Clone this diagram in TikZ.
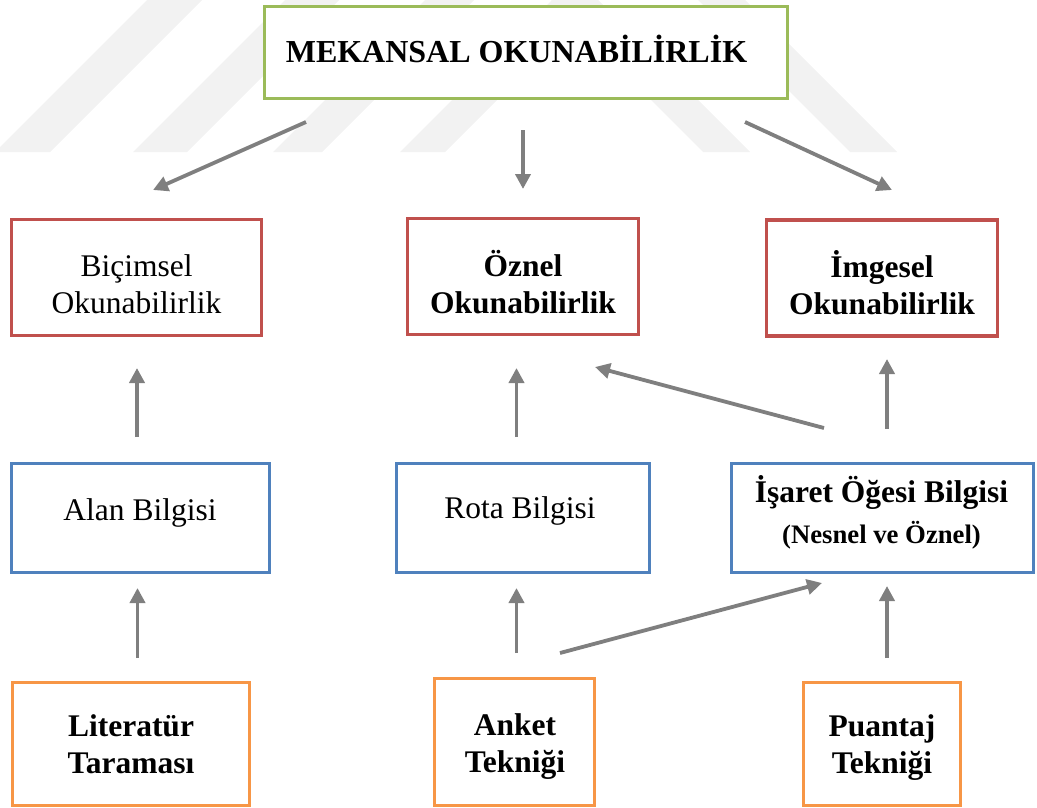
\documentclass[tikz,border=0pt]{standalone}
\usepackage{fontspec}
\setmainfont{Liberation Serif}
\usetikzlibrary{arrows.meta}
\definecolor{bxgreen}{RGB}{155,187,89}
\definecolor{bxred}{RGB}{192,80,77}
\definecolor{bxblue}{RGB}{79,129,189}
\definecolor{bxorange}{RGB}{247,150,70}
\definecolor{arrgray}{RGB}{127,127,127}
\definecolor{wmgray}{RGB}{242,242,242}
\begin{document}
\begin{tikzpicture}[x=1pt,y=-1pt,
  box/.style={draw, rectangle, line width=3.4pt, fill=white, inner sep=0pt},
  txt/.style={font=\fontsize{31.5}{37}\selectfont, align=center, anchor=base, inner sep=0pt},
  btxt/.style={txt, font=\fontsize{31.5}{37}\selectfont\bfseries},
  arr/.style={draw=arrgray, line width=3.8pt, -{Triangle[length=15pt,width=15pt]}}]
\useasboundingbox (0,0) rectangle (1037,808);
% faint watermark
\begin{scope}
\clip (0,0) rectangle (1037,808);
\fill[wmgray] (-5,152) -- (50,152) -- (202,0) -- (147,0) -- cycle;
\fill[wmgray] (133,152) -- (187,152) -- (339,0) -- (285,0) -- cycle;
\fill[wmgray] (273,152) -- (322,152) -- (474,0) -- (425,0) -- cycle;
\fill[wmgray] (400,152) -- (445,152) -- (597,0) -- (552,0) -- cycle;
\fill[wmgray] (703,152) -- (750,152) -- (598,0) -- (551,0) -- cycle;
\fill[wmgray] (850,152) -- (897,152) -- (745,0) -- (698,0) -- cycle;
\end{scope}
% boxes
\node[box, draw=bxgreen, minimum width=522.8, minimum height=91.8] (mek) at (526,52.5) {};
\node[box, draw=bxred, minimum width=249.8, minimum height=115.8] (bic) at (136.5,277.5) {};
\node[box, draw=bxred, minimum width=230.8, minimum height=115.8] (ozn) at (523,276.5) {};
\node[box, draw=bxred, minimum width=230.8, minimum height=115.8] (img) at (882,278) {};
\node[box, draw=bxblue, minimum width=257.8, minimum height=108.8] (alan) at (140.5,518) {};
\node[box, draw=bxblue, minimum width=252.8, minimum height=108.8] (rota) at (523,518) {};
\node[box, draw=bxblue, minimum width=301.8, minimum height=108.8] (isa) at (882.5,518) {};
\node[box, draw=bxorange, minimum width=236.8, minimum height=122.8] (lit) at (131,744) {};
\node[box, draw=bxorange, minimum width=159.8, minimum height=126.8] (ank) at (514.5,742) {};
\node[box, draw=bxorange, minimum width=156.8, minimum height=122.8] (pua) at (882,744) {};
% texts (base = baseline of the last line)
\node[btxt, font=\fontsize{32}{37}\selectfont\bfseries] (mekt) at (516.5,63) {MEKANSAL OKUNABİLİRLİK};
\node[txt] (bict) at (136.5,313) {Biçimsel\\Okunabilirlik};
\node[btxt] (oznt) at (523,313) {Öznel\\Okunabilirlik};
\node[btxt] (imgt) at (882,314) {İmgesel\\Okunabilirlik};
\node[txt] (alant) at (140,520) {Alan Bilgisi};
\node[txt] (rotat) at (520,518) {Rota Bilgisi};
\node[btxt] (isat) at (881.5,502) {İşaret Öğesi Bilgisi};
\node[btxt, font=\fontsize{26.7}{30}\selectfont\bfseries] (isat2) at (881.5,543) {(Nesnel ve Öznel)};
\node[btxt] (litt) at (131,773) {Literatür\\Taraması};
\node[btxt] (ankt) at (515,772) {Anket\\Tekniği};
\node[btxt] (puat) at (882,773) {Puantaj\\Tekniği};
% arrow end points
\coordinate (mb1) at (306,122);   \coordinate (mb2) at (153,190);
\coordinate (mo1) at (523,130);   \coordinate (mo2) at (523,189);
\coordinate (mi1) at (745,122);   \coordinate (mi2) at (892,190);
\coordinate (ab1) at (137,437);   \coordinate (ab2) at (137,368);
\coordinate (ro1) at (516.5,437); \coordinate (ro2) at (516.5,368);
\coordinate (io1) at (824,428);   \coordinate (io2) at (595,367);
\coordinate (ii1) at (887,429);   \coordinate (ii2) at (887,359);
\coordinate (la1) at (137.5,658); \coordinate (la2) at (137.5,588);
\coordinate (ar1) at (516.5,653); \coordinate (ar2) at (516.5,588);
\coordinate (ai1) at (560,653);   \coordinate (ai2) at (822,583);
\coordinate (pi1) at (887,658);   \coordinate (pi2) at (887,586);
% connectors
\draw[arr] (mb1) -- (mb2);
\draw[arr] (mo1) -- (mo2);
\draw[arr] (mi1) -- (mi2);
\draw[arr] (ab1) -- (ab2);
\draw[arr] (ro1) -- (ro2);
\draw[arr] (io1) -- (io2);
\draw[arr] (ii1) -- (ii2);
\draw[arr] (la1) -- (la2);
\draw[arr] (ar1) -- (ar2);
\draw[arr] (ai1) -- (ai2);
\draw[arr] (pi1) -- (pi2);
\end{tikzpicture}
\end{document}
